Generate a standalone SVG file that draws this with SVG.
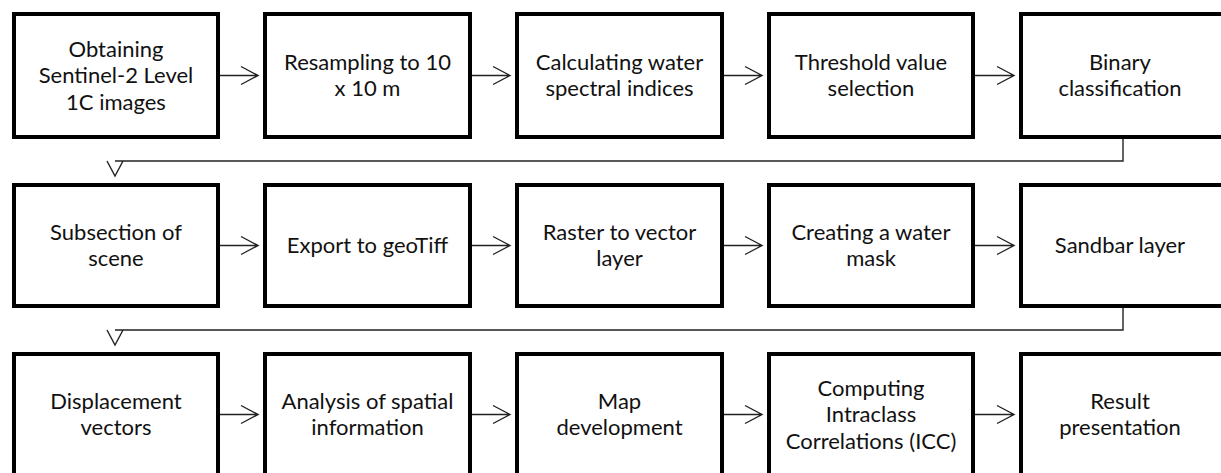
<svg xmlns="http://www.w3.org/2000/svg" width="1221" height="473" viewBox="0 0 1221 473">
  <defs>
    <style>
      .box { fill: #ffffff; stroke: #000000; stroke-width: 4; }
      .lbl { font-family: Lato, "Liberation Sans", sans-serif; font-size: 22px; fill: #111111; text-anchor: middle; }
      .wire { fill: none; stroke: #222222; stroke-width: 1.4; }
    </style>
  </defs>
  <rect width="1221" height="473" fill="#ffffff"/>

  <!-- Row 1 -->
  <g id="n1"><rect class="box" x="14" y="14" width="204" height="123"/>
    <text class="lbl" x="116"><tspan x="116" y="56.5">Obtaining</tspan><tspan x="116" y="83">Sentinel-2 Level</tspan><tspan x="116" y="109.5">1C images</tspan></text></g>
  <g id="n2"><rect class="box" x="265" y="14" width="205" height="123"/>
    <text class="lbl"><tspan x="367.5" y="69.8">Resampling to 10</tspan><tspan x="367.5" y="96.3">x 10 m</tspan></text></g>
  <g id="n3"><rect class="box" x="517" y="14" width="205" height="123"/>
    <text class="lbl"><tspan x="619.5" y="69.8">Calculating water</tspan><tspan x="619.5" y="96.3">spectral indices</tspan></text></g>
  <g id="n4"><rect class="box" x="769" y="14" width="204" height="123"/>
    <text class="lbl"><tspan x="871" y="69.8">Threshold value</tspan><tspan x="871" y="96.3">selection</tspan></text></g>
  <g id="n5"><rect class="box" x="1021" y="14" width="205" height="123"/>
    <text class="lbl"><tspan x="1120" y="69.8">Binary</tspan><tspan x="1120" y="96.3">classification</tspan></text></g>

  <!-- Row 2 -->
  <g id="n6"><rect class="box" x="14" y="185" width="204" height="121"/>
    <text class="lbl"><tspan x="116" y="239.8">Subsection of</tspan><tspan x="116" y="266.3">scene</tspan></text></g>
  <g id="n7"><rect class="box" x="265" y="185" width="205" height="121"/>
    <text class="lbl" x="367.5" y="253">Export to geoTiff</text></g>
  <g id="n8"><rect class="box" x="517" y="185" width="205" height="121"/>
    <text class="lbl"><tspan x="619.5" y="239.8">Raster to vector</tspan><tspan x="619.5" y="266.3">layer</tspan></text></g>
  <g id="n9"><rect class="box" x="769" y="185" width="204" height="121"/>
    <text class="lbl"><tspan x="871" y="239.8">Creating a water</tspan><tspan x="871" y="266.3">mask</tspan></text></g>
  <g id="n10"><rect class="box" x="1021" y="185" width="205" height="121"/>
    <text class="lbl" x="1120" y="253">Sandbar layer</text></g>

  <!-- Row 3 -->
  <g id="n11"><rect class="box" x="14" y="354" width="204" height="122"/>
    <text class="lbl"><tspan x="116" y="408.8">Displacement</tspan><tspan x="116" y="435.3">vectors</tspan></text></g>
  <g id="n12"><rect class="box" x="265" y="354" width="205" height="122"/>
    <text class="lbl"><tspan x="367.5" y="408.8">Analysis of spatial</tspan><tspan x="367.5" y="435.3">information</tspan></text></g>
  <g id="n13"><rect class="box" x="517" y="354" width="205" height="122"/>
    <text class="lbl"><tspan x="619.5" y="408.8">Map</tspan><tspan x="619.5" y="435.3">development</tspan></text></g>
  <g id="n14"><rect class="box" x="769" y="354" width="204" height="122"/>
    <text class="lbl"><tspan x="871" y="395.5">Computing</tspan><tspan x="871" y="422">Intraclass</tspan><tspan x="871" y="448.5">Correlations (ICC)</tspan></text></g>
  <g id="n15"><rect class="box" x="1021" y="354" width="205" height="122"/>
    <text class="lbl"><tspan x="1120" y="408.8">Result</tspan><tspan x="1120" y="435.3">presentation</tspan></text></g>

  <!-- Connectors -->
  <g id="connectors" class="wire">
    <!-- row 1 -->
    <path d="M220 75.5 H258 M241 66.5 L258 75.5 L241 84.5"/>
    <path d="M472 75.5 H510 M493 66.5 L510 75.5 L493 84.5"/>
    <path d="M724 75.5 H762 M745 66.5 L762 75.5 L745 84.5"/>
    <path d="M975 75.5 H1014 M997 66.5 L1014 75.5 L997 84.5"/>
    <!-- wrap to row 2 -->
    <path d="M1123 139 V161 H115 M107 161 L115 176 L123 161"/>
    <!-- row 2 -->
    <path d="M220 245.5 H258 M241 236.5 L258 245.5 L241 254.5"/>
    <path d="M472 245.5 H510 M493 236.5 L510 245.5 L493 254.5"/>
    <path d="M724 245.5 H762 M745 236.5 L762 245.5 L745 254.5"/>
    <path d="M975 245.5 H1014 M997 236.5 L1014 245.5 L997 254.5"/>
    <!-- wrap to row 3 -->
    <path d="M1123 308 V330 H115 M107 330 L115 345 L123 330"/>
    <!-- row 3 -->
    <path d="M220 414.5 H258 M241 405.5 L258 414.5 L241 423.5"/>
    <path d="M472 414.5 H510 M493 405.5 L510 414.5 L493 423.5"/>
    <path d="M724 414.5 H762 M745 405.5 L762 414.5 L745 423.5"/>
    <path d="M975 414.5 H1014 M997 405.5 L1014 414.5 L997 423.5"/>
  </g>
</svg>
